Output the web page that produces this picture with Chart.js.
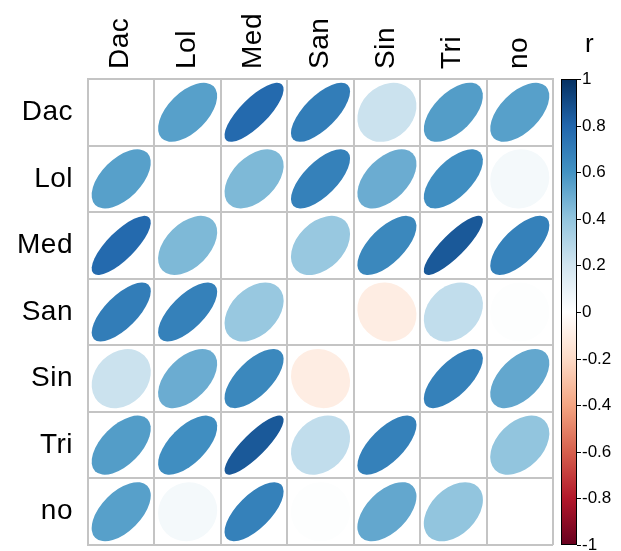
<!DOCTYPE html>
<html>
<head>
<meta charset="utf-8">
<script src="https://cdn.jsdelivr.net/npm/chart.js@4/dist/chart.umd.min.js"></script>
<style>
html, body { margin: 0; padding: 0; background: #fff; }
</style>
</head>
<body>
<canvas id="chart-area" width="621" height="551"></canvas>
<script>
var vars = ['Dac', 'Lol', 'Med', 'San', 'Sin', 'Tri', 'no'];

// correlation rows, same order as vars (diagonal left blank in the plot)
var rDac = [1, 0.55, 0.78, 0.70, 0.22, 0.56, 0.55];
var rLol = [0.55, 1, 0.45, 0.68, 0.50, 0.62, 0.05];
var rMed = [0.78, 0.45, 1, 0.38, 0.65, 0.85, 0.68];
var rSan = [0.70, 0.68, 0.38, 1, -0.10, 0.25, 0.01];
var rSin = [0.22, 0.50, 0.65, -0.10, 1, 0.68, 0.52];
var rTri = [0.56, 0.62, 0.85, 0.25, 0.68, 1, 0.40];
var rNo  = [0.55, 0.05, 0.68, 0.01, 0.52, 0.40, 1];
var rows = [rDac, rLol, rMed, rSan, rSin, rTri, rNo];

var barTicks = [-1, -0.8, -0.6, -0.4, -0.2, 0, 0.2, 0.4, 0.6, 0.8, 1];

// RdBu, from -1 to 1
var palette = ['#67001F', '#B2182B', '#D6604D', '#F4A582', '#FDDBC7', '#FFFFFF',
               '#D1E5F0', '#92C5DE', '#4393C3', '#2166AC', '#053061'];

function hexRgb(h) {
	return [parseInt(h.substr(1, 2), 16), parseInt(h.substr(3, 2), 16), parseInt(h.substr(5, 2), 16)];
}

function corColor(r) {
	var p = (r + 1) / 2 * (palette.length - 1);
	var i = Math.min(Math.floor(p), palette.length - 2);
	var t = p - i;
	var a = hexRgb(palette[i]), b = hexRgb(palette[i + 1]);
	var c = a.map(function (v, k) { return Math.round(v + (b[k] - v) * t); });
	return 'rgb(' + c.join(',') + ')';
}

var points = [];
rows.forEach(function (row, i) {
	row.forEach(function (v, j) {
		if (i !== j) points.push({ x: vars[j], y: vars[i], v: v });
	});
});

var fontFamily = '"Liberation Sans", Arial, sans-serif';

var ellipsePlugin = {
	id: 'ellipses',
	beforeDraw: function (chart) {
		chart.ctx.letterSpacing = '0.5px';
	},
	afterDatasetsDraw: function (chart) {
		var ctx = chart.ctx;
		var xs = chart.scales.x, ys = chart.scales.y;
		var cw = Math.abs(xs.getPixelForValue(1) - xs.getPixelForValue(0));
		var ch = Math.abs(ys.getPixelForValue(1) - ys.getPixelForValue(0));
		var s = Math.min(cw, ch) * 0.89;
		var meta = chart.getDatasetMeta(0);
		meta.data.forEach(function (pt, i) {
			var r = chart.data.datasets[0].data[i].v;
			var a = Math.sqrt(1 + r) / 2 * s;
			var b = Math.sqrt(1 - r) / 2 * s;
			ctx.save();
			ctx.translate(pt.x, pt.y);
			ctx.rotate(-Math.PI / 4);
			ctx.beginPath();
			ctx.ellipse(0, 0, a, Math.max(b, 0.5), 0, 0, Math.PI * 2);
			ctx.fillStyle = corColor(r);
			ctx.fill();
			ctx.restore();
		});
	}
};

var colorbarPlugin = {
	id: 'colorbar',
	afterDraw: function (chart) {
		var ctx = chart.ctx;
		var cb = chart.scales.cb;
		var x0 = chart.chartArea.right + 8, x1 = x0 + 16;
		var top = cb.getPixelForValue(1), bot = cb.getPixelForValue(-1);
		var g = ctx.createLinearGradient(0, bot, 0, top);
		palette.forEach(function (c, i) { g.addColorStop(i / (palette.length - 1), c); });
		ctx.save();
		ctx.letterSpacing = '0px';
		ctx.fillStyle = g;
		ctx.fillRect(x0, top, x1 - x0, bot - top);
		ctx.strokeStyle = '#000';
		ctx.lineWidth = 1;
		ctx.strokeRect(x0 + 0.5, top + 0.5, x1 - x0 - 1, bot - top - 1);
		ctx.fillStyle = '#000';
		ctx.font = '17px ' + fontFamily;
		ctx.textAlign = 'left';
		ctx.textBaseline = 'middle';
		barTicks.forEach(function (v) {
			var y = Math.round(cb.getPixelForValue(v)) + 0.5;
			ctx.beginPath();
			ctx.moveTo(x1, y);
			ctx.lineTo(x1 + 4, y);
			ctx.stroke();
			ctx.fillText(String(Math.round(v * 10) / 10), x1 + 5, y);
		});
		ctx.font = '26px ' + fontFamily;
		ctx.textBaseline = 'alphabetic';
		ctx.fillText('r', x0 + 24, 52);
		ctx.restore();
	}
};

var gridColor = '#c4c4c4';
var labelFont = { family: fontFamily, size: 28, lineHeight: 1.2 };

var config = {
	type: 'scatter',
	data: {
		datasets: [{
			data: points,
			pointRadius: 0,
			pointHoverRadius: 0
		}]
	},
	options: {
		responsive: false,
		animation: false,
		layout: { padding: { top: 0, right: 0, bottom: 6, left: 0 } },
		plugins: {
			legend: { display: false },
			tooltip: { enabled: false }
		},
		scales: {
			x: {
				type: 'category',
				labels: vars,
				position: 'top',
				offset: true,
				grid: { color: gridColor, lineWidth: 2, drawTicks: false, offset: true },
				border: { color: gridColor, width: 2 },
				ticks: {
					color: '#000', font: labelFont, minRotation: 90, maxRotation: 90,
					autoSkip: false, padding: 10, labelOffset: 33
				},
				afterFit: function (s) { s.height = 79; }
			},
			y: {
				type: 'category',
				labels: vars,
				position: 'left',
				offset: true,
				grid: {
					color: gridColor, lineWidth: 2, offset: true,
					drawTicks: true, tickLength: 15, tickColor: 'rgba(0,0,0,0)'
				},
				border: { color: gridColor, width: 2 },
				ticks: {
					color: '#000', autoSkip: false, padding: 0,
					font: { family: fontFamily, size: 28, lineHeight: 0.4 }
				},
				afterFit: function (s) { s.width = 88; }
			},
			cb: {
				type: 'linear',
				position: 'right',
				min: -1,
				max: 1,
				grid: { display: false, drawOnChartArea: false, drawTicks: false },
				border: { display: false },
				ticks: { display: false },
				afterFit: function (s) { s.width = 68; }
			}
		}
	},
	plugins: [ellipsePlugin, colorbarPlugin]
};

var ctx = document.getElementById('chart-area').getContext('2d');
window.myCorr = new Chart(ctx, config);
</script>
</body>
</html>
